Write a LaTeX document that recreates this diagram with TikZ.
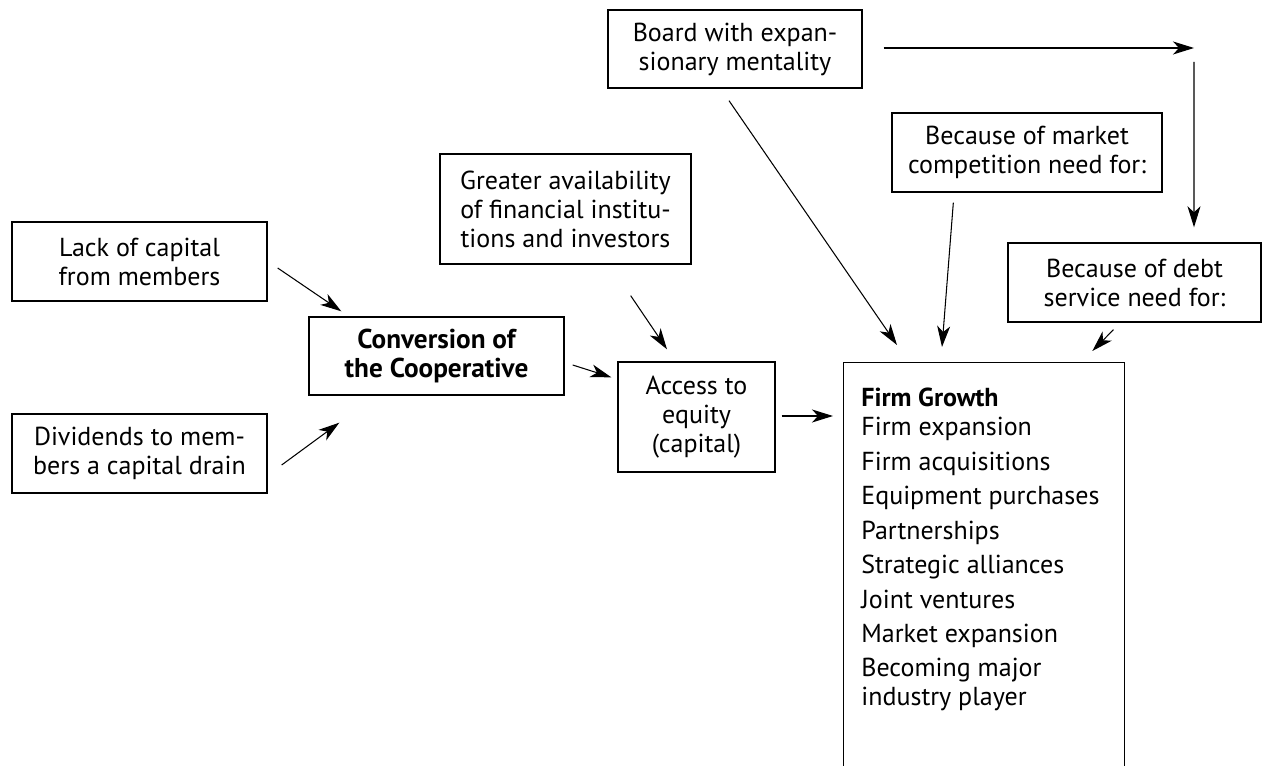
\documentclass[tikz,border=0pt]{standalone}
\usepackage{fontspec}
\setmainfont{PT Sans}
\usetikzlibrary{arrows.meta,calc}
\begin{document}
\begin{tikzpicture}[
			x=0.02cm, y=-0.02cm,
			every node/.style={font=\fontsize{14.8}{16.5}\selectfont},
			box/.style={rectangle, draw, line width=0.8pt, align=center, inner sep=0pt},
			arr/.style={line width=0.6pt, -{Stealth[length=0.42cm, width=0.26cm, inset=0.12cm]}}
		]
		\clip (0,0) rectangle (1262,766);
		% causes on the left
		\node[box, minimum width=5.1cm, minimum height=1.58cm] (lack) at (139.5,261.5) {Lack of capital\\from members};
		\node[box, minimum width=5.1cm, minimum height=1.58cm] (divid) at (139.5,453.5) {Dividends to mem-\\bers a capital drain};
		\node[box, minimum width=5.1cm, minimum height=1.56cm, font=\fontsize{15.5}{16.5}\selectfont\bfseries] (conv) at (436.5,356) {Conversion of\\the Cooperative};
		\node[box, minimum width=5.02cm, minimum height=2.2cm] (avail) at (565.5,209) {Greater availability\\of financial institu-\\tions and investors};
		\node[box, minimum width=3.14cm, minimum height=2.2cm] (access) at (696.5,417) {Access to\\equity\\(capital)};
		% pressures at the top
		\node[box, minimum width=5.08cm, minimum height=1.56cm] (board) at (735,49) {Board with expan-\\sionary mentality};
		\node[box, minimum width=5.4cm, minimum height=1.58cm] (market) at (1027,152.5) {Because of market\\competition need for:};
		\node[box, minimum width=5.06cm, minimum height=1.58cm] (debt) at (1134.5,282.5) {Because of debt\\service need for:};
		% growth box
		\node[box, anchor=north west, minimum width=5.62cm, minimum height=8.4cm] (firm) at (843,362) {};
		\node[anchor=north west, inner sep=0pt, align=left] (growth) at (861,388) {\textbf{Firm Growth}\\Firm expansion\\[3.1pt]Firm acquisitions\\[3.1pt]Equipment purchases\\[3.1pt]Partnerships\\[3.1pt]Strategic alliances\\[3.1pt]Joint ventures\\[3.1pt]Market expansion\\[3.1pt]Becoming major\\industry player};
		\coordinate (turn) at (1194,48);

		\draw[arr] ($(lack.east)+(10,6.5)$) -- ($(conv.north west)+(33,-5)$);
		\draw[arr] ($(divid.east)+(14,11.5)$) -- ($(conv.south west)+(31,27)$);
		\draw[arr] ($(conv.east)+(8,9)$) -- ($(access.north west)+(-6,16)$);
		\draw[arr] ($(avail.south east)+(-61,31)$) -- ($(access.north)+(-29.5,-12)$);
		\draw[arr] ($(access.east)+(6,-1)$) -- ($(firm.north west)+(-10,54)$);
		\draw[arr] ($(board.south)+(-6,12)$) -- ($(firm.north west)+(54,-17)$);
		\draw[arr] ($(market.south west)+(62,10)$) -- ($(firm.north west)+(99,-15)$);
		\draw[arr] ($(debt.south)+(-21,7)$) -- ($(firm.north east)+(-33,-11)$);
		\draw[arr] ($(board.east)+(21,-1)$) -- (turn);
		\draw[arr] ($(turn)+(0,14)$) -- ($(debt.north)+(59.5,-15)$);
\end{tikzpicture}
\end{document}
